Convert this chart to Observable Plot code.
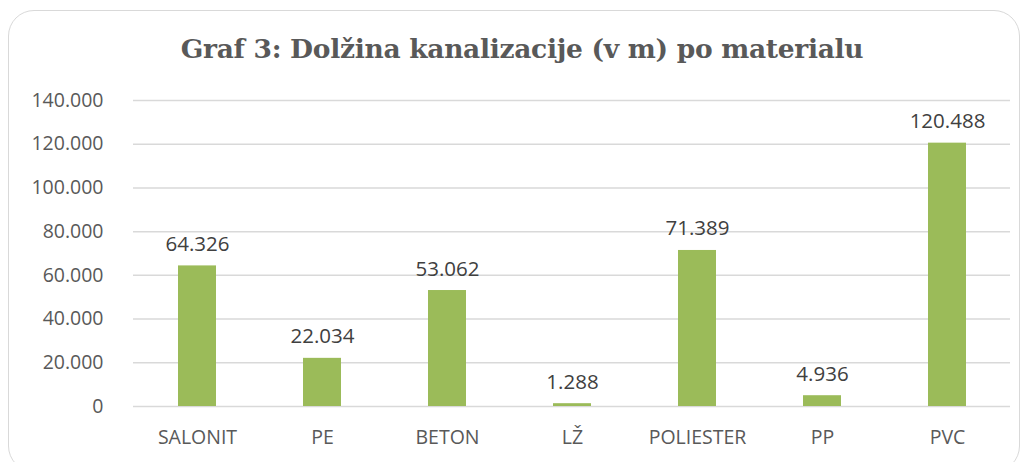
<!DOCTYPE html>
<html><head><meta charset="utf-8">
<script src="https://cdn.jsdelivr.net/npm/d3@7"></script>
<script src="https://cdn.jsdelivr.net/npm/@observablehq/plot@0.6"></script>
<style>
html,body{margin:0;padding:0;background:#fff;}
#wrap{position:relative;width:1026px;height:462px;overflow:hidden;}
#frame{position:absolute;left:8px;top:10px;width:1012px;height:462px;border:1.5px solid #d9d9d9;border-radius:26px;box-sizing:border-box;}
#title{position:absolute;left:0;top:33px;width:1044px;text-align:center;font-family:"DejaVu Serif","Liberation Serif",serif;font-weight:bold;font-size:26.5px;color:#595959;letter-spacing:-0.3px;}
#chart{position:absolute;left:0;top:0;}
</style></head>
<body><div id="wrap"><div id="frame"></div><div id="title">Graf 3: Dolžina kanalizacije (v m) po materialu</div><div id="chart"></div></div>
<script>
const categories = ["SALONIT","PE","BETON","LŽ","POLIESTER","PP","PVC"];
const values = [64326, 22034, 53062, 1288, 71389, 4936, 120488];
const yTicks = [0,20000,40000,60000,80000,100000,120000,140000];

const loc = d3.formatLocale({decimal:",", thousands:".", grouping:[3], currency:["","€"]});
const fmt = loc.format(",d");
const data = categories.map((c,i)=>({cat:c, val:values[i]}));
const font = "'Open Sans', 'Liberation Sans', sans-serif";

const chart = Plot.plot({
  width:1026, height:462,
  marginLeft:133, marginRight:16, marginTop:100, marginBottom:56,
  style:{fontFamily:font, fontSize:"19.5px", color:"#595959", background:"transparent"},
  x:{domain:categories, paddingInner:0.7, paddingOuter:0.35, label:null, tickSize:0, tickPadding:24},
  y:{domain:[0,140000], ticks:yTicks, tickFormat:fmt, label:null, tickSize:0, tickPadding:30},
  marks:[
    Plot.gridY(yTicks, {stroke:"#d9d9d9", strokeOpacity:1, strokeWidth:1.5}),
    Plot.barY(data, {x:"cat", y:"val", fill:"#9bbb59"}),
    Plot.text(data, {x:"cat", y:"val", text:d=>fmt(d.val), lineAnchor:"bottom", dy:-15, fill:"#404040", fontSize:20.5})
  ]
});
document.getElementById("chart").appendChild(chart);
</script></body></html>
